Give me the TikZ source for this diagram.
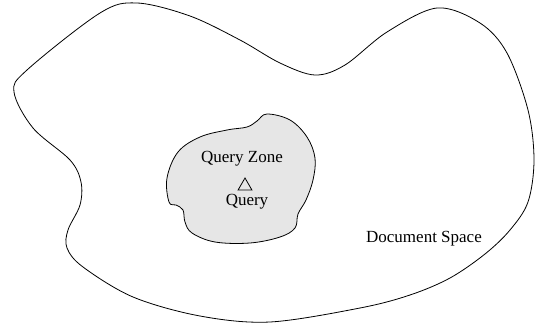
\documentclass[tikz,border=0pt]{standalone}
\usepackage{fontspec}
\setmainfont{Liberation Serif}
\usetikzlibrary{shapes.geometric}
\definecolor{zonegray}{RGB}{230,230,230}
\tikzset{
  outline/.style={draw=black, line width=0.8pt},
  lbl/.style={font=\fontsize{17}{20}\selectfont, inner sep=0pt},
}
\begin{document}
\begin{tikzpicture}[x=1pt, y=-1pt]
\useasboundingbox (0,0) rectangle (539,327);
% document space outline
\draw[outline] plot[smooth cycle, tension=0.55] coordinates {
  (137,3) (190,16) (240,40) (280,63) (315,75) (345,65) (387,32) (437,8)
  (480,23) (507,53) (528,110) (534,160) (528,202) (510,230) (485,254)
  (450,278) (410,295) (360,308) (270,322) (200,316) (133,297) (83,267)
  (67,248) (68,230) (80,205) (81,182) (70,160) (33,128) (14,92) (27,70)
  (100,13)};
% query zone
\draw[outline, fill=zonegray] plot[smooth cycle, tension=0.6] coordinates {
  (267,114) (290,120) (307,137) (315,158) (313,180) (306,200) (298,214)
  (295,228) (280,237) (250,243) (215,242) (192,233) (185,222) (183,210)
  (176,205) (169,202) (167,178) (178,152) (200,137) (227,130) (247,127)
  (257,121)};
\node[lbl] (zone) at (242,159) {Query Zone};
\node[draw, line width=0.8pt, regular polygon, regular polygon sides=3,
      minimum size=16pt, inner sep=0pt] (q) at (245,186) {};
\node[lbl] (qlabel) at (247,202) {Query};
\node[lbl] (space) at (424,239) {Document Space};
\end{tikzpicture}
\end{document}
